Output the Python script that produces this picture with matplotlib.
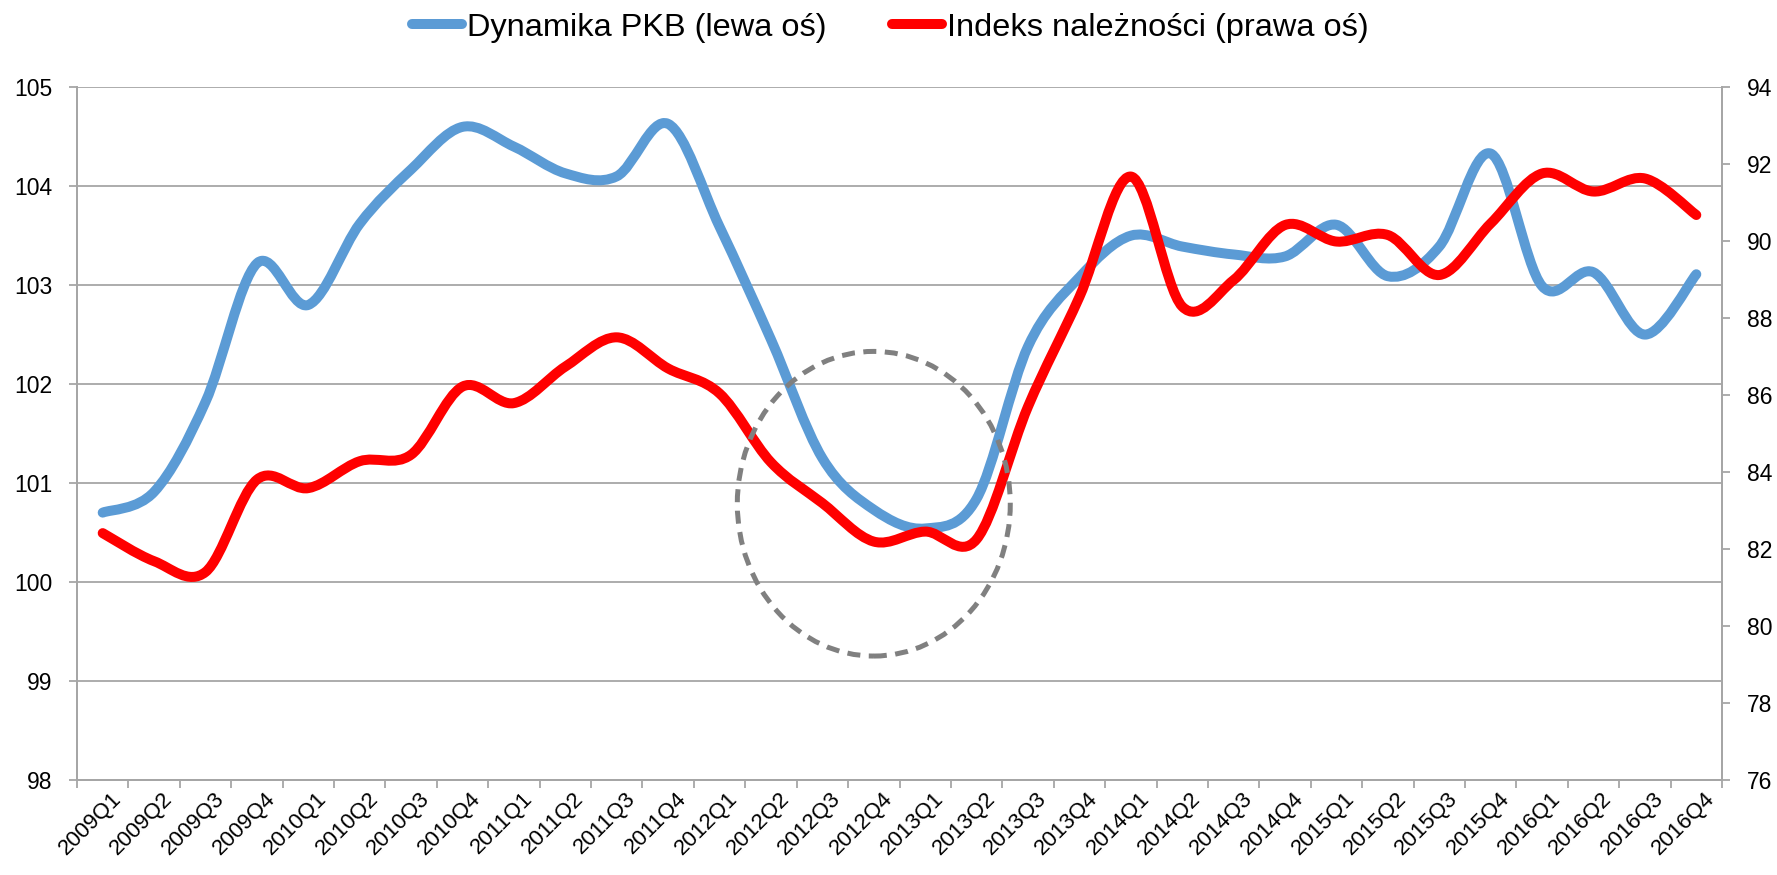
import numpy as np
import matplotlib
matplotlib.use("Agg")
import matplotlib.pyplot as plt
from matplotlib.path import Path
from matplotlib.patches import PathPatch, Ellipse
from matplotlib.lines import Line2D
import matplotlib.transforms as mtransforms

plt.rcParams['font.family'] = ['Liberation Sans', 'DejaVu Sans']

# ---- data ----
quarters = ["2009Q1", "2009Q2", "2009Q3", "2009Q4",
            "2010Q1", "2010Q2", "2010Q3", "2010Q4",
            "2011Q1", "2011Q2", "2011Q3", "2011Q4",
            "2012Q1", "2012Q2", "2012Q3", "2012Q4",
            "2013Q1", "2013Q2", "2013Q3", "2013Q4",
            "2014Q1", "2014Q2", "2014Q3", "2014Q4",
            "2015Q1", "2015Q2", "2015Q3", "2015Q4",
            "2016Q1", "2016Q2", "2016Q3", "2016Q4"]

pkb = [100.70, 100.91, 101.82, 103.22, 102.80, 103.62, 104.17, 104.60,
       104.40, 104.13, 104.10, 104.63, 103.59, 102.45, 101.25, 100.73,
       100.54, 100.84, 102.38, 103.08, 103.50, 103.39, 103.31, 103.29,
       103.61, 103.09, 103.39, 104.33, 102.99, 103.13, 102.50, 103.11]

naleznosci = [82.41, 81.68, 81.40, 83.80, 83.58, 84.28, 84.45, 86.22,
              85.79, 86.74, 87.50, 86.69, 86.04, 84.25, 83.19, 82.19,
              82.45, 82.25, 85.70, 88.55, 91.68, 88.30, 88.99, 90.42,
              89.99, 90.16, 89.12, 90.46, 91.76, 91.29, 91.63, 90.68]

left_ticks = [98, 99, 100, 101, 102, 103, 104, 105]
right_ticks = [76, 78, 80, 82, 84, 86, 88, 90, 92, 94]

label_pkb = "Dynamika PKB (lewa oś)"
label_nal = "Indeks należności (prawa oś)"

# ---- style ----
BLUE = "#5B9BD5"
RED = "#FF0000"
GRID = "#A6A6A6"
DPI = 100


def smooth_path(xs, ys):
    """Excel-like smoothed line as cubic Bezier path through the data points."""
    pts = np.column_stack([xs, ys]).astype(float)
    n = len(pts)
    verts = [tuple(pts[0])]
    codes = [Path.MOVETO]
    for i in range(n - 1):
        p0 = pts[i - 1] if i > 0 else pts[i]
        p1 = pts[i]
        p2 = pts[i + 1]
        p3 = pts[i + 2] if i + 2 < n else pts[i + 1]
        c1 = p1 + (p2 - p0) / 6.0
        c2 = p2 - (p3 - p1) / 6.0
        verts += [tuple(c1), tuple(c2), tuple(p2)]
        codes += [Path.CURVE4] * 3
    return Path(verts, codes)


fig = plt.figure(figsize=(17.77, 8.75), dpi=DPI)
fig.patch.set_facecolor("white")
ax = fig.add_axes([77 / 1777, 1 - 779.7 / 875, (1722 - 77) / 1777, (779.7 - 87.3) / 875])
ax2 = ax.twinx()

x = np.arange(len(quarters))

# left axis
ax.set_xlim(-0.5, len(quarters) - 0.5)
ax.set_ylim(left_ticks[0], left_ticks[-1])
ax.set_yticks(left_ticks)
ax.yaxis.grid(True, color=GRID, linewidth=1.3)
ax.set_axisbelow(True)

# right axis
ax2.set_ylim(right_ticks[0], right_ticks[-1])
ax2.set_yticks(right_ticks)

# lines
lw = 7.2
pp1 = PathPatch(smooth_path(x, pkb), fill=False, edgecolor=BLUE, linewidth=lw,
                capstyle='round', joinstyle='round', zorder=3)
ax.add_patch(pp1)
pp2 = PathPatch(smooth_path(x, naleznosci), fill=False, edgecolor=RED, linewidth=lw,
                capstyle='round', joinstyle='round', zorder=3)
ax2.add_patch(pp2)

# dashed ellipse highlighting 2012-2013
ell = Ellipse((15.0, 100.79), width=5.31, height=3.08, fill=False,
              edgecolor="#808080", linewidth=3.6, linestyle=(0, (2.6, 1.7)),
              transform=ax.transData, zorder=5)
ax2.add_patch(ell)

# spines
for a in (ax, ax2):
    a.spines['top'].set_visible(False)
    for s in ('left', 'right', 'bottom'):
        a.spines[s].set_color(GRID)
        a.spines[s].set_linewidth(1.3)
    a.set_facecolor("none")

# ticks
ax.set_xticks(x)
ax.set_xticklabels(quarters, rotation=45, ha='right', va='top', rotation_mode='anchor')
ax.set_xticks(np.arange(len(quarters) + 1) - 0.5, minor=True)
ax.tick_params(axis='x', which='major', length=0, pad=6, labelsize=16, labelcolor='black')
ax.tick_params(axis='x', which='minor', length=5.8, width=1.3, color=GRID, direction='out')
ax.tick_params(axis='y', which='major', length=5.8, width=1.3, color=GRID, pad=12,
               labelsize=16.5, labelcolor='black')
ax2.tick_params(axis='y', which='major', length=5.8, width=1.3, color=GRID, pad=12,
                labelsize=16.5, labelcolor='black')

offset = mtransforms.ScaledTranslation(8 / DPI, 0, fig.dpi_scale_trans)
for lab in ax.get_xticklabels():
    lab.set_transform(lab.get_transform() + offset)

# legend
handles = [Line2D([0], [0], color=BLUE, linewidth=lw, solid_capstyle='round'),
           Line2D([0], [0], color=RED, linewidth=lw, solid_capstyle='round')]
fig.legend(handles, [label_pkb, label_nal], loc='center', ncol=2,
           bbox_to_anchor=(0.5010, 1 - 27.7 / 875), frameon=False,
           fontsize=23.4, handlelength=1.55, handletextpad=0.15, columnspacing=2.0,
           borderaxespad=0, borderpad=0)

fig.savefig("out.png", dpi=DPI, facecolor="white")
